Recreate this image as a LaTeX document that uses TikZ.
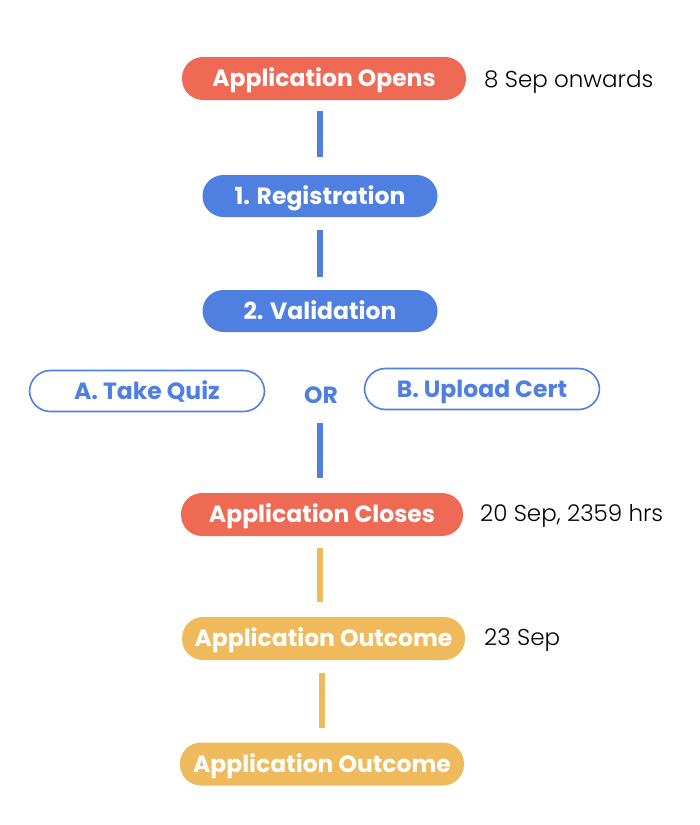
\documentclass[tikz,border=0pt]{standalone}
\usepackage{fontspec}
\setmainfont{Poppins}
\newfontfamily\boldf{Poppins}[UprightFont=* Bold]
\newfontfamily\datef{Poppins}[UprightFont=* Light]
\definecolor{cred}{HTML}{EE6A55}
\definecolor{cblue}{HTML}{4F7FE0}
\definecolor{cyel}{HTML}{EFBA5C}
\begin{document}
\begin{tikzpicture}[x=1pt,y=-1pt,
  pill/.style={rounded corners=21pt,minimum height=43pt,inner sep=0pt,font=\boldf\fontsize{23.5}{26}\selectfont,text=white,text height=16.5pt,text depth=0pt},
  redpill/.style={pill,fill=cred,minimum width=284pt},
  bluepill/.style={pill,fill=cblue,minimum width=235pt,minimum height=42pt},
  outpill/.style={pill,draw=cblue,line width=1.6pt,fill=white,text=cblue,minimum width=235pt,minimum height=41pt},
  yelpill/.style={pill,fill=cyel,minimum width=284pt},
  datetext/.style={font=\datef\fontsize{23}{25}\selectfont,anchor=base west,inner sep=0pt,text=black},
  conn/.style={line width=6pt}]
\useasboundingbox (0,0) rectangle (700,825);
\node[redpill] (opens) at (324,78.5) {Application Opens};
\node[datetext] (d1) at (484,87) {8 Sep onwards};
\node[bluepill] (reg) at (320,196) {1. Registration};
\node[bluepill] (val) at (320,311) {2. Validation};
\node[outpill] (quiz) at (147,391) {A. Take Quiz};
\node[font=\boldf\fontsize{23.5}{26}\selectfont,text=cblue,inner sep=0pt,text height=16.5pt,text depth=0pt] (or) at (321,395) {OR};
\node[outpill] (cert) at (482,389) {B. Upload Cert};
\node[redpill,minimum width=282pt] (closes) at (322,514.5) {Application Closes};
\node[datetext] (d2) at (480,521.5) {20 Sep, 2359 hrs};
\node[yelpill,minimum width=283pt] (out1) at (323.5,638.5) {Application Outcome};
\node[datetext] (d3) at (484,645.5) {23 Sep};
\node[yelpill] (out2) at (322,764) {Application Outcome};
\draw[conn,cblue,shorten <=11pt,shorten >=18pt] (opens.south -| reg.north) -- (reg.north);
\draw[conn,cblue,shorten <=13pt,shorten >=13pt] (reg.south) -- (val.north);
\draw[conn,cblue,shorten <=20pt,shorten >=15pt] (or.south -| closes.north) ++(-2,0) -- ([xshift=-2pt]closes.north);
\draw[conn,cyel,shorten <=12pt,shorten >=15pt] ([xshift=-2pt]closes.south) -- ([xshift=-2pt]closes.south |- out1.north);
\draw[conn,cyel,shorten <=13pt,shorten >=14pt] ([xshift=-1.5pt]out1.south) -- ([xshift=-1.5pt]out1.south |- out2.north);
\end{tikzpicture}
\end{document}
